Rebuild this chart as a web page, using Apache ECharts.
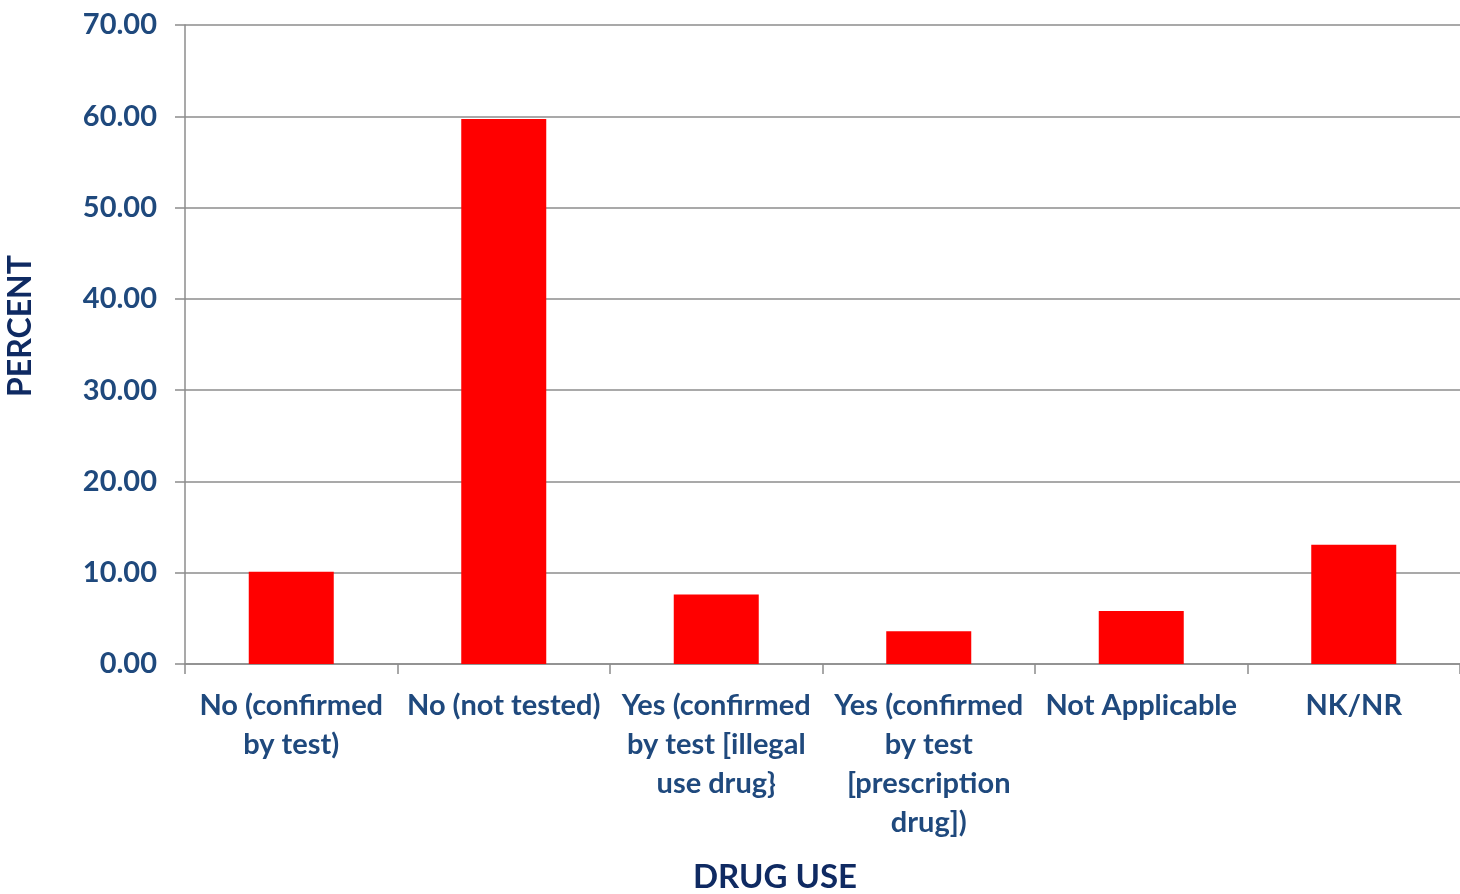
<!DOCTYPE html>
<html><head><meta charset="utf-8">
<script src="https://cdn.jsdelivr.net/npm/echarts@6/dist/echarts.min.js"></script>
<style>html,body{margin:0;padding:0;background:#fff}#c{width:1460px;height:894px}</style>
</head><body><div id="c"></div>
<script>
const categories = ["No (confirmed\nby test)", "No (not tested)", "Yes (confirmed\nby test [illegal\nuse drug}", "Yes (confirmed\nby test\n[prescription\ndrug])", "Not Applicable", "NK/NR"];
const percentValues = [10.1, 59.7, 7.6, 3.6, 5.8, 13.05];
const yTicks = {min: 0, max: 70, interval: 10};
const xTitle = "DRUG USE";
const yTitle = "PERCENT";

const chart = echarts.init(document.getElementById('c'), null, {renderer: 'canvas'});
const font = 'Lato, "Open Sans", sans-serif';
chart.setOption({
  animation: false,
  backgroundColor: '#fff',
  grid: {left: 185, top: 25, width: 1280, height: 639, containLabel: false},
  xAxis: {
    type: 'category', data: categories,
    axisLine: {lineStyle: {color: '#8c8c8c', width: 1.5}},
    axisTick: {show: true, length: 10, alignWithLabel: false, lineStyle: {color: '#8c8c8c', width: 1.5}},
    axisLabel: {interval: 0, margin: 22, color: '#1f497d', fontFamily: font, fontWeight: 'bold', fontSize: 29, lineHeight: 39, align: 'center'}
  },
  yAxis: {
    type: 'value', min: yTicks.min, max: yTicks.max, interval: yTicks.interval,
    axisLine: {show: true, lineStyle: {color: '#8c8c8c', width: 1.5}},
    axisTick: {show: true, length: 10, lineStyle: {color: '#8c8c8c', width: 1.5}},
    splitLine: {show: true, lineStyle: {color: '#8c8c8c', width: 1.5}},
    axisLabel: {margin: 28, color: '#1f497d', fontFamily: font, fontWeight: 'bold', fontSize: 29, formatter: v => v.toFixed(2)}
  },
  graphic: [
    {type: 'text', x: 775, y: 877, style: {text: xTitle, fill: '#0f2a62', font: 'bold 33px ' + font, textAlign: 'center', textVerticalAlign: 'middle'}},
    {type: 'text', rotation: Math.PI / 2, x: 21, y: 326, style: {text: yTitle, fill: '#0f2a62', font: 'bold 32px ' + font, textAlign: 'center', textVerticalAlign: 'middle'}}
  ],
  series: [{
    type: 'bar', data: percentValues, barWidth: '40%',
    itemStyle: {color: '#ff0000'}
  }]
});
</script></body></html>
